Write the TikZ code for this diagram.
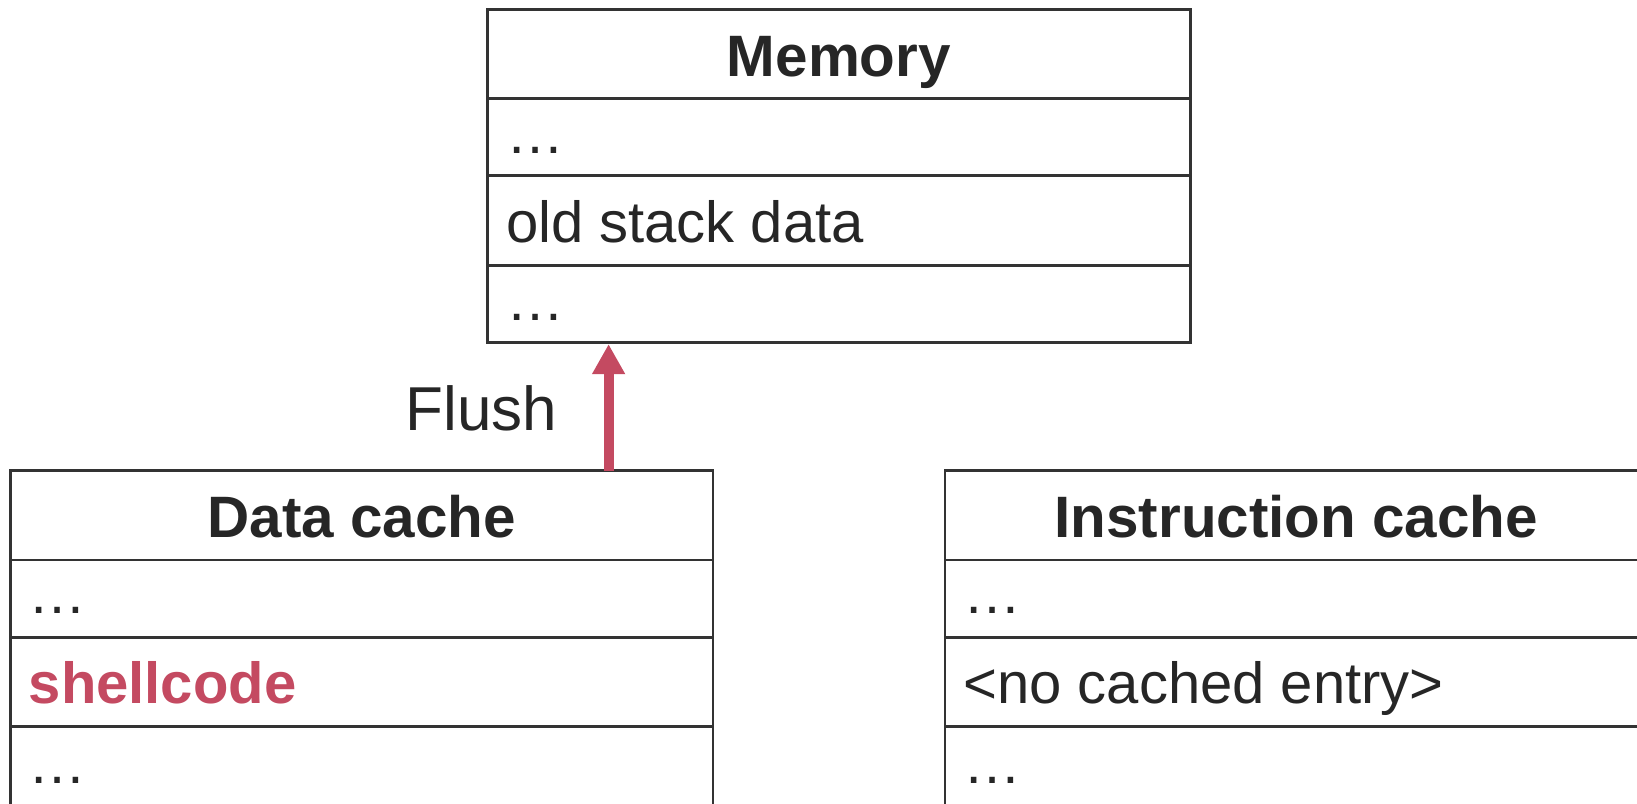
\documentclass[tikz,border=0pt]{standalone}
\usepackage{fontspec}
\setmainfont{Liberation Sans}
\usetikzlibrary{arrows.meta}
\definecolor{ink}{HTML}{262626}
\definecolor{edgegray}{HTML}{333333}
\definecolor{hot}{HTML}{C44A61}
\begin{document}
\begin{tikzpicture}[x=0.5pt,y=-0.5pt,
  cell/.style={draw=edgegray, line width=1.45pt, minimum width=351.3pt,
    inner sep=0pt, outer sep=0pt, anchor=north west},
  headcell/.style={cell, minimum height=44.6pt},
  dotcell/.style={cell, minimum height=38.6pt},
  lastcell/.style={cell, minimum height=41pt},
  textcell/.style={cell, minimum height=44.85pt},
  title/.style={anchor=base, inner sep=0pt, text=ink,
    font=\fontsize{29.2}{29.2}\selectfont\bfseries},
  entry/.style={anchor=base west, inner sep=0pt, text=ink,
    font=\fontsize{29}{29}\selectfont},
  flow/.style={draw=hot, line width=5pt,
    -{Triangle[width=15.5pt,length=15pt]}},
]
\useasboundingbox (0,0) rectangle (1637,803);
\clip (0,0) rectangle (1637,803);

% Memory
\node[headcell] (mem)  at (487.6,9.4)   {};
\node[dotcell]  (mem1) at (487.6,98.6)  {};
\node[textcell] (mem2) at (487.6,175.8) {};
\node[dotcell]  (mem3) at (487.6,265.5) {};
\node[title] (memt) at (838.9,76) {Memory};
\node[entry] (memd1) at (505.6,153) {…};
\node[entry] (mems)  at (505.6,242.7) {old stack data};
\node[entry] (memd2) at (505.6,320) {…};

% Data cache (runs past the lower edge)
\node[headcell] (dc)  at (10.4,470.8) {};
\node[dotcell]  (dc1) at (10.4,560)   {};
\node[textcell] (dc2) at (10.4,637.2) {};
\node[lastcell] (dc3) at (10.4,726.9) {};
\node[title] (dct) at (361.6,537.5) {Data cache};
\node[entry] (dcd1) at (28.4,613.5) {…};
\node[entry, text=hot, font=\fontsize{29}{29}\selectfont\bfseries] (dcs) at (28.4,703.3) {shellcode};
\node[entry] (dcd2) at (28.4,783) {…};

% Instruction cache (runs past the right and lower edges)
\node[headcell] (ic)  at (945,470.8) {};
\node[dotcell]  (ic1) at (945,560)   {};
\node[textcell] (ic2) at (945,637.2) {};
\node[lastcell] (ic3) at (945,726.9) {};
\node[title] (ict) at (1296.3,537.5) {Instruction cache};
\node[entry] (icd1) at (963,613.5) {…};
\node[entry] (ics)  at (963,703.3) {<no cached entry>};
\node[entry] (icd2) at (963,783) {…};

% Flush from the data cache up to memory
\coordinate (tail) at (608.6,470.8);
\draw[flow, shorten >=0.7pt] (tail) -- (tail |- mem3.south);
\node[entry, font=\fontsize{31}{31}\selectfont] (flush) at (405,430.7) {Flush};
\end{tikzpicture}
\end{document}
